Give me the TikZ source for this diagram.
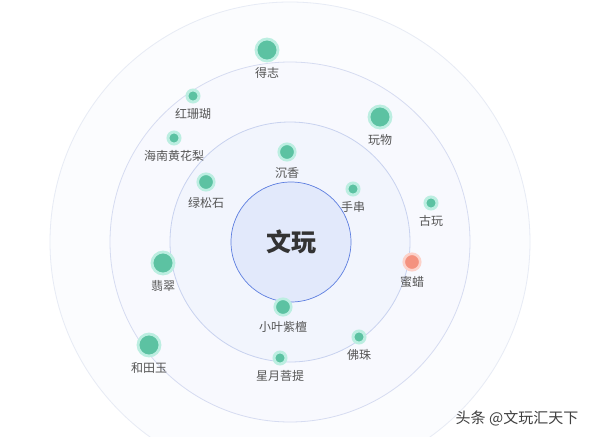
\documentclass[tikz,border=0pt]{standalone}
\usepackage{fontspec}
\setmainfont{Noto Sans CJK SC}
\definecolor{nodeg}{HTML}{5CC2A2}
\definecolor{haloG}{HTML}{BCEEE1}
\definecolor{nodes}{HTML}{F4927F}
\definecolor{haloS}{HTML}{FCD2CA}
\definecolor{coreF}{HTML}{E2E9FB}
\definecolor{coreD}{HTML}{5D7EE0}
\definecolor{ringA}{HTML}{F2F5FD}
\definecolor{ringAD}{HTML}{C8D2EF}
\definecolor{ringB}{HTML}{F8F9FE}
\definecolor{ringBD}{HTML}{D6DCF1}
\definecolor{ringC}{HTML}{FBFCFE}
\definecolor{ringCD}{HTML}{E7EBF5}
\definecolor{labc}{HTML}{555555}
\tikzset{
  gdot/.style={circle,fill=nodeg,draw=haloG,inner sep=0pt},
  sdot/.style={circle,fill=nodes,draw=haloS,inner sep=0pt},
  small/.style={minimum size=12pt,line width=3pt},
  medium/.style={minimum size=16.5pt,line width=2.6pt},
  big/.style={minimum size=22pt,line width=2.8pt},
  lab/.style={font=\fontsize{12}{13}\selectfont,text=labc,inner sep=0pt}
}
\begin{document}
\begin{tikzpicture}[x=1pt,y=-1pt]
\useasboundingbox (0,0) rectangle (590,437);
\fill[white] (0,0) rectangle (590,437);
\begin{scope}
\clip (0,0) rectangle (590,437);
\draw[fill=ringC,draw=ringCD,line width=0.8pt] (290,242) circle (240);
\draw[fill=ringB,draw=ringBD,line width=0.8pt] (290,242) circle (180);
\draw[fill=ringA,draw=ringAD,line width=0.8pt] (290,242) circle (120);
\end{scope}
\node[circle,minimum size=120pt,fill=coreF,draw=coreD,line width=0.7pt,inner sep=0pt] (core) at (291,242) {};
\node[font=\fontsize{25}{26}\selectfont\bfseries,text=black!80] (title) at (291,242) {文玩};
% dots
\node[gdot,big] (d1) at (267,50) {};
\node[gdot,small] (d2) at (193,96) {};
\node[gdot,small] (d3) at (174,138) {};
\node[gdot,medium] (d4) at (287,152) {};
\node[gdot,medium] (d5) at (206,182) {};
\node[gdot,big] (d6) at (380,117) {};
\node[gdot,small] (d7) at (353,189) {};
\node[gdot,small] (d8) at (431,203) {};
\node[sdot,medium] (d9) at (412,262) {};
\node[gdot,big] (d10) at (163,263) {};
\node[gdot,medium] (d11) at (283,307) {};
\node[gdot,big] (d12) at (149,345) {};
\node[gdot,small] (d13) at (280,358) {};
\node[gdot,small] (d14) at (359,337) {};
% labels
\node[lab] (l1) at (267,73) {得志};
\node[lab] (l2) at (193,114) {红珊瑚};
\node[lab] (l3) at (174,156) {海南黄花梨};
\node[lab] (l4) at (287,173) {沉香};
\node[lab] (l5) at (206,203) {绿松石};
\node[lab] (l6) at (380,140) {玩物};
\node[lab] (l7) at (353,207) {手串};
\node[lab] (l8) at (431,221) {古玩};
\node[lab] (l9) at (412,282) {蜜蜡};
\node[lab] (l10) at (163,286) {翡翠};
\node[lab] (l11) at (283,327) {小叶紫檀};
\node[lab] (l12) at (149,368) {和田玉};
\node[lab] (l13) at (280,376) {星月菩提};
\node[lab] (l14) at (359,355) {佛珠};
\node[font=\fontsize{15}{16}\selectfont,text=black!75,inner sep=0pt] (wm) at (517,418) {头条 @文玩汇天下};
\end{tikzpicture}
\end{document}
